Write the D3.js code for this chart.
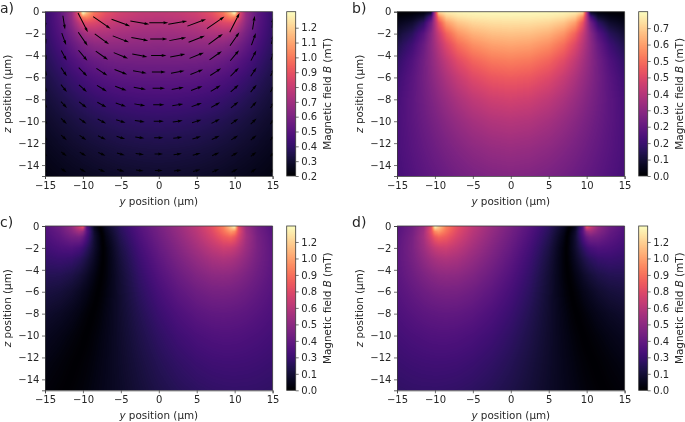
<!DOCTYPE html>
<html>
<head>
<meta charset="utf-8">
<script src="https://cdn.jsdelivr.net/npm/d3@7"></script>
<style>
html,body{margin:0;padding:0;background:#fff;}
svg{display:block;font-family:"DejaVu Sans",sans-serif;filter:blur(0.35px);}
text{fill:#262626;}
</style>
</head>
<body>
<svg id="chart" width="685" height="422"></svg>
<script>
// All field values below are hand estimates, typed in from the picture
// (by eye, with the shape of a flat-strip field as a guide for smooth areas).
const yTicks = [-15,-10,-5,0,5,10,15];
const zTicks = [0,-2,-4,-6,-8,-10,-12,-14];
const panelLetters = ["a)","b)","c)","d)"];
const yLabelText = "position (µm)";

// grid of the heat maps: depth below the surface (µm), and y columns (µm)
const depths = [0,0.5,1,2,3,4.5,6,8,10,12.5,15];
const halfCols = [0,2.5,5,7,8.5,9.5,10,10.5,11.5,13,15];

// a) total field (mT), right half, left half is the mirror image in the picture
const halfTotal = [
[.785,.795,.829,.896,.997,1.176,1.39,.93,.669,.513,.405],
[.765,.774,.805,.858,.937,1.019,1.006,.868,.660,.510,.403],
[.740,.748,.773,.813,.860,.875,.845,.779,.639,.504,.402],
[.691,.696,.710,.728,.732,.711,.688,.656,.581,.484,.394],
[.643,.646,.651,.653,.640,.616,.599,.578,.529,.458,.383],
[.577,.577,.573,.563,.543,.523,.510,.497,.466,.419,.362],
[.518,.516,.509,.494,.475,.459,.450,.439,.418,.383,.340],
[.451,.448,.438,.424,.409,.396,.389,.383,.368,.344,.312],
[.395,.392,.383,.370,.359,.349,.344,.339,.328,.310,.287],
[.340,.337,.330,.320,.311,.304,.301,.296,.289,.277,.259],
[.296,.293,.288,.281,.274,.268,.266,.263,.258,.248,.235]];

// b) in-plane field (mT), right half
const halfInPlane = [
[.785,.785,.783,.78,.772,.739,.394,.049,.016,.007,.004],
[.765,.763,.757,.741,.702,.586,.389,.191,.075,.036,.020],
[.740,.737,.724,.694,.629,.499,.383,.266,.136,.070,.040],
[.691,.685,.661,.613,.530,.431,.370,.309,.210,.126,.076],
[.643,.635,.604,.549,.471,.398,.358,.317,.243,.165,.106],
[.577,.567,.532,.478,.416,.366,.339,.313,.262,.199,.140],
[.518,.508,.474,.426,.378,.341,.322,.303,.265,.214,.161],
[.451,.441,.412,.375,.339,.313,.299,.286,.259,.221,.177],
[.395,.387,.364,.334,.308,.288,.278,.268,.248,.219,.183],
[.340,.333,.316,.295,.276,.262,.255,.247,.233,.211,.183],
[.296,.291,.278,.263,.249,.238,.233,.228,.217,.200,.178]];

// c) tilted component (mT), full width; sign flips across the dark band. d) is its mirror image.
const tilted = [
[-.330,-.417,-.540,-.733,-.868,-.329,-.077,.087,.220,.341,.447,.553,.672,.803,.957,1.171,1.318,.789,.558,.425,.334],
[-.319,-.396,-.495,-.586,-.539,-.350,-.108,.067,.205,.330,.436,.540,.657,.777,.908,1.018,.983,.804,.581,.438,.341],
[-.305,-.369,-.434,-.448,-.400,-.306,-.122,.048,.190,.316,.422,.524,.636,.744,.840,.874,.836,.752,.590,.449,.351],
[-.274,-.311,-.324,-.299,-.265,-.218,-.112,.028,.164,.289,.394,.491,.590,.670,.716,.710,.687,.651,.564,.455,.360],
[-.242,-.256,-.246,-.215,-.190,-.158,-.087,.024,.146,.266,.367,.458,.542,.602,.623,.612,.598,.577,.524,.444,.362],
[-.194,-.190,-.168,-.139,-.119,-.098,-.049,.028,.128,.237,.329,.409,.478,.516,.523,.516,.505,.495,.466,.416,.354],
[-.154,-.139,-.114,-.088,-.073,-.058,-.021,.039,.120,.215,.295,.365,.420,.447,.451,.446,.441,.434,.416,.383,.338],
[-.110,-.090,-.066,-.045,-.034,-.021,.006,.052,.114,.189,.257,.313,.356,.376,.380,.377,.374,.371,.362,.342,.312],
[-.077,-.055,-.034,-.017,-.008,.002,.025,.059,.109,.170,.225,.272,.305,.321,.327,.326,.324,.323,.316,.305,.285],
[-.047,-.027,-.007,.007,.014,.022,.039,.065,.103,.150,.194,.230,.257,.271,.275,.276,.276,.275,.273,.267,.255],
[-.025,-.007,.010,.022,.027,.034,.048,.069,.097,.135,.169,.197,.219,.231,.236,.238,.239,.238,.238,.235,.227]];

// arrows of panel a): anchor columns (right half) and depths, and components (mT)
const arrowCols = [0,2.5,5,7.5,10,12.5,15];
const arrowDepths = [1,2.5,4,5.5,7,8.5,10,11.5,13,14.5];
const arrowU = [
[.740,.737,.724,.680,.383,.085,.040],
[.667,.659,.632,.557,.364,.170,.092],
[.599,.589,.555,.479,.345,.210,.130],
[.537,.527,.492,.426,.327,.227,.155],
[.483,.473,.441,.386,.310,.233,.171],
[.436,.427,.399,.353,.294,.232,.179],
[.395,.387,.364,.326,.278,.228,.183],
[.360,.353,.334,.303,.264,.222,.184],
[.330,.324,.308,.282,.250,.216,.182],
[.304,.299,.285,.264,.237,.208,.179]];
const arrowV = [
[0,.127,.272,.471,.754,.534,.400],
[0,.120,.252,.405,.525,.467,.378],
[0,.109,.223,.336,.410,.397,.346],
[0,.097,.192,.279,.334,.338,.311],
[0,.084,.165,.234,.279,.290,.278],
[0,.072,.141,.198,.236,.251,.248],
[0,.062,.120,.169,.202,.219,.221],
[0,.054,.103,.145,.175,.192,.198],
[0,.046,.089,.125,.153,.170,.177],
[0,.040,.077,.109,.134,.150,.159]];

// colour bars
const barATicks = [.2,.3,.4,.5,.6,.7,.8,.9,1.0,1.1,1.2];
const barALabels = ["0.2","0.3","0.4","0.5","0.6","0.7","0.8","0.9","1.0","1.1","1.2"];
const barBTicks = [0,.079,.158,.237,.316,.395,.474,.553,.632,.711];
const barBLabels = ["0.0","0.1","0.2","0.2","0.3","0.4","0.5","0.5","0.6","0.7"];
const barCTicks = [0,.13,.26,.39,.52,.65,.78,.91,1.04,1.17];
const barCLabels = ["0.0","0.1","0.3","0.4","0.5","0.6","0.8","0.9","1.0","1.2"];

// ---------- derived tables (mirroring only) ----------
const fullCols = [...halfCols.slice(1).map(v=>-v).reverse(), ...halfCols];
const mirrorHalf = rows => rows.map(r => [...r.slice(1).reverse(), ...r]);
const mirrorRow = rows => rows.map(r => [...r].reverse());

const panels = [
 {ox:0,  oy:0,     grid:mirrorHalf(halfTotal),   dom:[.2,1.308], ticks:barATicks, labels:barALabels, arrows:true},
 {ox:352,oy:0,     grid:mirrorHalf(halfInPlane),dom:[0,.79],    ticks:barBTicks, labels:barBLabels},
 {ox:0,  oy:214.3, grid:tilted,                  dom:[0,1.296],  ticks:barCTicks, labels:barCLabels},
 {ox:352,oy:214.3, grid:mirrorRow(tilted),       dom:[0,1.296],  ticks:barCTicks, labels:barCLabels}
];

const tickFont = 10, labelFont = 10.4, letterFont = 14;
const frame = {l:45, r:272.6, t:11.7, b:176, barL:286.7, barR:295.7};
const svg = d3.select("#chart");
const rootClip = svg.append("defs");

function bitmap(w,h,fn){
  const c = document.createElement("canvas"); c.width=w; c.height=h;
  const g = c.getContext("2d"), im = g.createImageData(w,h);
  for(let j=0;j<h;j++) for(let i=0;i<w;i++){
    const col = d3.rgb(fn(i,j)), k=(j*w+i)*4;
    im.data[k]=col.r; im.data[k+1]=col.g; im.data[k+2]=col.b; im.data[k+3]=255;
  }
  g.putImageData(im,0,0);
  return c.toDataURL();
}

panels.forEach((p,pi)=>{
  const g = svg.append("g").attr("transform",`translate(${p.ox},${p.oy})`);
  const x = d3.scaleLinear().domain([-15,15]).range([frame.l,frame.r]);
  const y = d3.scaleLinear().domain([-15,0]).range([frame.b,frame.t]);
  const color = d3.scaleSequential(d3.interpolateMagma).domain(p.dom).clamp(true);
  const colIdx = d3.scaleLinear().domain(fullCols).range(d3.range(fullCols.length)).clamp(true);
  const rowIdx = d3.scaleLinear().domain(depths).range(d3.range(depths.length)).clamp(true);
  const grid = p.grid;
  const w = Math.round(frame.r-frame.l), h = Math.round(frame.b-frame.t);
  const sample = (yy,dd)=>{
    const cf=colIdx(yy), rf=rowIdx(dd);
    const c0=Math.min(Math.floor(cf),fullCols.length-2), r0=Math.min(Math.floor(rf),depths.length-2);
    const tc=cf-c0, tr=rf-r0;
    return (grid[r0][c0]*(1-tc)+grid[r0][c0+1]*tc)*(1-tr)+(grid[r0+1][c0]*(1-tc)+grid[r0+1][c0+1]*tc)*tr;
  };
  const href = bitmap(w,h,(i,j)=>{
    const yy = x.invert(frame.l+(i+.5)*(frame.r-frame.l)/w);
    const zz = y.invert(frame.t+(j+.5)*(frame.b-frame.t)/h);
    return color(Math.abs(sample(yy,-zz)));
  });
  g.append("image").attr("x",frame.l).attr("y",frame.t).attr("width",frame.r-frame.l).attr("height",frame.b-frame.t)
    .attr("preserveAspectRatio","none").attr("href",href);

  if(p.arrows){
    const len = d3.scaleLinear().domain([0,1]).range([0,25.7]);
    const sw=1.0;
    rootClip.append("clipPath").attr("id","clipA").append("rect")
      .attr("x",frame.l).attr("y",frame.t).attr("width",frame.r-frame.l).attr("height",frame.b-frame.t);
    const items=[];
    arrowDepths.forEach((d,r)=>arrowCols.forEach((c,k)=>{
      items.push({yy:c,d,u:arrowU[r][k],v:arrowV[r][k]});
      if(c!==0) items.push({yy:-c,d,u:arrowU[r][k],v:-arrowV[r][k]});
    }));
    const line=d3.line();
    g.append("g").attr("clip-path","url(#clipA)").selectAll("path").data(items).join("path")
      .attr("fill","#000")
      .attr("d",a=>{
        const L=len(Math.hypot(a.u,a.v)), ang=Math.atan2(-a.v,a.u);
        const hl=Math.min(5*sw,L), al=Math.min(4.5*sw,L*.9), hw=1.5*sw, s=sw/2;
        const pts=[[-L/2,-s],[L/2-al,-s],[L/2-hl,-hw],[L/2,0],[L/2-hl,hw],[L/2-al,s],[-L/2,s]];
        const cx=x(a.yy), cy=y(-a.d), ca=Math.cos(ang), sa=Math.sin(ang);
        return line(pts.map(([u,v])=>[cx+u*ca-v*sa, cy+u*sa+v*ca]))+"Z";
      });
  }

  const xAxis = d3.axisBottom(x).tickValues(yTicks).tickSize(3).tickPadding(2.6).tickFormat(d3.format("d"));
  const yAxis = d3.axisLeft(y).tickValues(zTicks).tickSize(3).tickPadding(2.6).tickFormat(d3.format("d"));
  const styleAxis = s=>{
    s.selectAll(".domain").attr("stroke","#3a3a3a").attr("stroke-width",.8);
    s.selectAll(".tick line").attr("stroke","#3a3a3a").attr("stroke-width",.7);
    s.selectAll(".tick text").attr("font-size",tickFont).attr("font-family","DejaVu Sans").attr("fill","#262626");
  };
  g.append("g").attr("transform",`translate(0,${frame.b})`).call(xAxis).call(styleAxis);
  g.append("g").attr("transform",`translate(${frame.l},0)`).call(yAxis).call(styleAxis);
  g.append("path").attr("fill","none").attr("stroke","#3a3a3a").attr("stroke-width",.8)
    .attr("d",`M${frame.l},${frame.t}H${frame.r}V${frame.b}`);

  // axis labels
  const xl = g.append("text").attr("x",(frame.l+frame.r)/2).attr("y",205).attr("text-anchor","middle").attr("font-size",labelFont);
  xl.append("tspan").attr("font-style","italic").text("y");
  xl.append("tspan").text(" "+yLabelText);
  const yl = g.append("text").attr("transform",`translate(10.5,${(frame.t+frame.b)/2}) rotate(-90)`).attr("text-anchor","middle").attr("font-size",labelFont);
  yl.append("tspan").attr("font-style","italic").text("z");
  yl.append("tspan").text(" "+yLabelText);

  // colour bar
  const barY = d3.scaleLinear().domain(p.dom).range([frame.b,frame.t]);
  const barHref = bitmap(1,h,(i,j)=>color(barY.invert(frame.t+(j+.5)*(frame.b-frame.t)/h)));
  g.append("image").attr("x",frame.barL).attr("y",frame.t).attr("width",frame.barR-frame.barL).attr("height",frame.b-frame.t)
    .attr("preserveAspectRatio","none").attr("href",barHref);
  g.append("rect").attr("x",frame.barL).attr("y",frame.t).attr("width",frame.barR-frame.barL).attr("height",frame.b-frame.t)
    .attr("fill","none").attr("stroke","#3a3a3a").attr("stroke-width",.8);
  const barAxis = d3.axisRight(barY).tickValues(p.ticks).tickSize(3).tickPadding(2.6).tickFormat((d,i)=>p.labels[i]);
  g.append("g").attr("transform",`translate(${frame.barR},0)`).call(barAxis).call(styleAxis).select(".domain").remove();
  const bl = g.append("text").attr("transform",`translate(330.5,${(frame.t+frame.b)/2}) rotate(-90)`).attr("text-anchor","middle").attr("font-size",labelFont);
  bl.append("tspan").text("Magnetic field ");
  bl.append("tspan").attr("font-style","italic").text("B");
  bl.append("tspan").text(" (mT)");

  g.append("text").attr("x",0).attr("y",13).attr("font-size",letterFont).text(panelLetters[pi]);
});
</script>
</body>
</html>
